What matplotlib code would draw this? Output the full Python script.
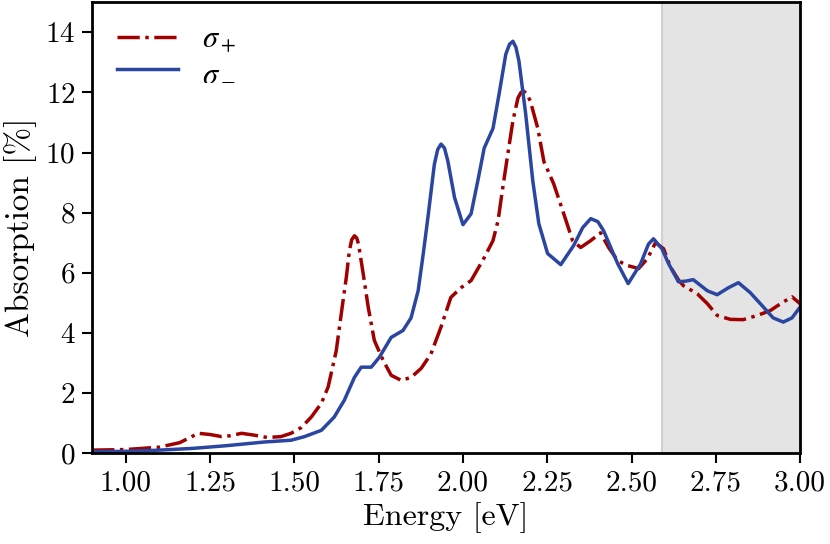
import matplotlib
matplotlib.use('Agg')
import matplotlib.pyplot as plt

# sigma+
e_plus = [0.90, 1.00, 1.10, 1.16, 1.215, 1.25, 1.284, 1.31, 1.343, 1.38, 1.42, 1.46, 1.49, 1.52,
          1.55, 1.58, 1.60, 1.624, 1.639, 1.654, 1.663, 1.67, 1.678, 1.685, 1.69, 1.704, 1.719,
          1.737, 1.763, 1.787, 1.817, 1.846, 1.876, 1.905, 1.935, 1.964, 1.994, 2.024, 2.063,
          2.089, 2.104, 2.118, 2.133, 2.148, 2.163, 2.172, 2.18, 2.19, 2.20, 2.222, 2.24, 2.269,
          2.299, 2.325, 2.349, 2.379, 2.408, 2.432, 2.459, 2.488, 2.521, 2.547, 2.571, 2.595,
          2.615, 2.64, 2.654, 2.695, 2.725, 2.754, 2.793, 2.831, 2.873, 2.911, 2.946, 2.976, 3.00]
a_plus = [0.10, 0.12, 0.20, 0.35, 0.66, 0.62, 0.55, 0.58, 0.66, 0.60, 0.52, 0.55, 0.66, 0.85,
          1.2, 1.66, 2.2, 3.4, 4.64, 5.85, 6.73, 7.1, 7.23, 7.15, 6.96, 5.97, 4.85,
          3.75, 3.09, 2.59, 2.42, 2.52, 2.82, 3.3, 4.2, 5.18, 5.5, 5.74, 6.5,
          7.07, 7.73, 8.83, 9.95, 11.05, 11.81, 12.0, 12.04, 11.95, 11.7, 10.8, 9.7, 8.96,
          7.96, 7.07, 6.84, 7.07, 7.33, 6.84, 6.4, 6.24, 6.14, 6.47, 7.0, 6.8,
          6.2, 5.75, 5.57, 5.3, 4.97, 4.58, 4.45, 4.44, 4.58, 4.74, 5.0, 5.2, 4.97]

# sigma-
e_minus = [0.90, 1.00, 1.10, 1.20, 1.30, 1.41, 1.49, 1.53, 1.58, 1.618, 1.648, 1.678, 1.698,
           1.728, 1.752, 1.787, 1.822, 1.846, 1.867, 1.882, 1.896, 1.915, 1.925, 1.935, 1.945,
           1.955, 1.975, 2.00, 2.024, 2.044, 2.063, 2.089, 2.107, 2.127, 2.138, 2.148, 2.157,
           2.166, 2.186, 2.207, 2.225, 2.251, 2.29, 2.328, 2.355, 2.379, 2.40, 2.417, 2.459,
           2.49, 2.527, 2.55, 2.565, 2.59, 2.61, 2.639, 2.66, 2.683, 2.725, 2.754, 2.787, 2.817,
           2.852, 2.891, 2.92, 2.95, 2.976, 3.00]
a_minus = [0.05, 0.06, 0.10, 0.16, 0.25, 0.37, 0.43, 0.55, 0.76, 1.2, 1.76, 2.52, 2.86,
           2.86, 3.19, 3.85, 4.08, 4.5, 5.4, 6.62, 7.84, 9.6, 10.1, 10.28, 10.15,
           9.72, 8.5, 7.6, 7.96, 9.06, 10.15, 10.8, 11.94, 13.27, 13.6, 13.7, 13.5,
           13.04, 11.28, 9.06, 7.63, 6.64, 6.27, 6.9, 7.5, 7.8, 7.7, 7.4, 6.3,
           5.64, 6.3, 6.95, 7.13, 6.8, 6.3, 5.7, 5.72, 5.77, 5.4, 5.27, 5.5, 5.67,
           5.34, 4.86, 4.5, 4.36, 4.5, 4.86]

xticks = [1.00, 1.25, 1.50, 1.75, 2.00, 2.25, 2.50, 2.75, 3.00]
yticks = [0, 2, 4, 6, 8, 10, 12, 14]
shade_start = 2.59

plt.rcParams['font.family'] = ['cmr10', 'DejaVu Serif']
plt.rcParams['mathtext.fontset'] = 'cm'
plt.rcParams['axes.formatter.use_mathtext'] = True

fig = plt.figure(figsize=(8.3, 5.44), dpi=100)
ax = fig.add_axes([0.111, 0.167, 0.853, 0.829])

ax.axvspan(shade_start, 3.0, facecolor='#e4e4e4', edgecolor='#d0d0d0', lw=1.5, zorder=0)
ax.plot(e_plus, a_plus, color='#a00000', lw=2.5, linestyle='-.', label=r'$\sigma_+$',
        solid_joinstyle='round', dash_joinstyle='round')
ax.plot(e_minus, a_minus, color='#2a46a0', lw=2.5, linestyle='-', label=r'$\sigma_-$',
        solid_joinstyle='round')

ax.set_xlim(0.9, 3.0)
ax.set_ylim(0, 15)
ax.set_xticks(xticks, labels=[f'{t:.2f}' for t in xticks])
ax.set_yticks(yticks)
ax.tick_params(direction='out', length=7, width=1.5, labelsize=21, pad=5)
for s in ax.spines.values():
    s.set_linewidth(2)

ax.set_xlabel('Energy [eV]', fontsize=23, labelpad=4)
ax.set_ylabel('Absorption [%]', fontsize=24, labelpad=6)
ax.legend(loc='upper left', frameon=False, handlelength=2.0,
          prop={'size': 22, 'math_fontfamily': 'stix'},
          borderaxespad=0.4, labelspacing=0.1, handletextpad=0.8)

fig.savefig('out.png', dpi=100)
